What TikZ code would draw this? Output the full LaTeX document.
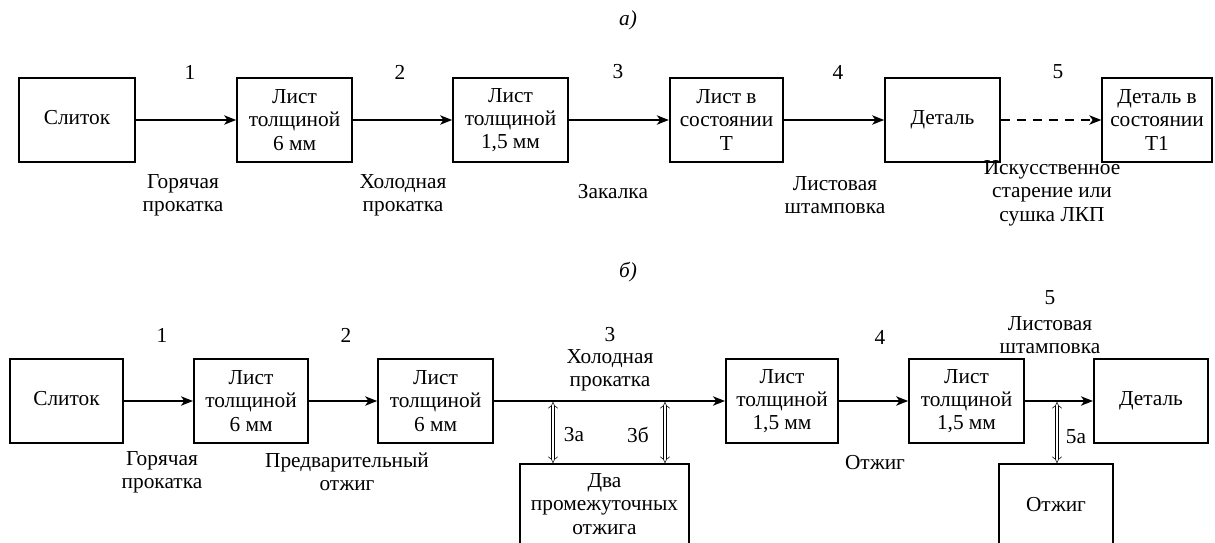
\documentclass[tikz,border=0pt]{standalone}
\usepackage{fontspec}
\setmainfont{Liberation Serif}
\usetikzlibrary{arrows.meta}
\begin{document}
\begin{tikzpicture}[x=0.75pt,y=-0.75pt,
  every node/.style={font=\rmfamily\fontsize{16}{17.5}\selectfont, align=center},
  box/.style={draw, line width=1.5pt, minimum height=63pt, inner sep=0pt},
  lbl/.style={inner sep=0pt},
  arr/.style={line width=1.2pt, -{Stealth[length=9pt,width=7pt,inset=2.5pt]}},
  dbl/.style={line width=0.4pt, double, double distance=2.2pt, {Implies[length=2.5pt]}-{Implies[length=2.5pt]}}
]
\useasboundingbox (0,0) rectangle (1215,543);
% ---------- a)
\node[lbl] (ta) at (628,20) {\itshape а)};
\node[box, minimum width=87pt] (a1) at (77,120) {\strut Слиток};
\node[box, minimum width=86pt] (a2) at (294.5,120) {Лист\\толщиной\\6 мм};
\node[box, minimum width=86pt] (a3) at (510.5,120) {Лист\\толщиной\\1,5 мм};
\node[box, minimum width=85pt] (a4) at (726.5,120) {Лист в\\состоянии\\Т};
\node[box, minimum width=86pt] (a5) at (942.5,120) {\strut Деталь};
\node[box, minimum width=82pt] (a6) at (1157,120) {Деталь в\\состоянии\\Т1};
\draw[arr] (a1) -- (a2);
\draw[arr] (a2) -- (a3);
\draw[arr] (a3) -- (a4);
\draw[arr] (a4) -- (a5);
\draw[arr, dashed, dash pattern=on 7pt off 5pt] (a5) -- (a6);
\node[lbl] (an1) at (190,72) {1};
\node[lbl] (an2) at (400,72) {2};
\node[lbl] (an3) at (618,72) {3};
\node[lbl] (an4) at (838,72) {4};
\node[lbl] (an5) at (1058,72) {5};
\node[lbl] (al1) at (183,195) {Горячая\\прокатка};
\node[lbl] (al2) at (403,195) {Холодная\\прокатка};
\node[lbl] (al3) at (613,192) {Закалка};
\node[lbl] (al4) at (835,195) {Листовая\\штамповка};
\node[lbl] (al5) at (1052,193) {Искусственное\\старение или\\сушка ЛКП};
% ---------- b)
\node[lbl] (tb) at (628,272) {\itshape б)};
\node[box, minimum width=85pt] (b1) at (66.5,401) {\strut Слиток};
\node[box, minimum width=85.5pt] (b2) at (251,401) {Лист\\толщиной\\6 мм};
\node[box, minimum width=86pt] (b3) at (435.5,401) {Лист\\толщиной\\6 мм};
\node[box, minimum width=84pt] (b4) at (782,401) {Лист\\толщиной\\1,5 мм};
\node[box, minimum width=86pt] (b5) at (966.5,401) {Лист\\толщиной\\1,5 мм};
\node[box, minimum width=85.5pt] (b6) at (1151,401) {\strut Деталь};
\draw[arr] (b1) -- (b2);
\draw[arr] (b2) -- (b3);
\draw[arr] (b3) -- (b4);
\draw[arr] (b4) -- (b5);
\draw[arr] (b5) -- (b6);
\node[box, minimum width=127pt, minimum height=90pt, anchor=north] (dva) at (604.5,463) {};
\node[lbl] (dvat) at (604.5,504) {Два\\промежуточных\\отжига};
\node[box, minimum width=85.5pt, minimum height=90pt, anchor=north] (otj) at (1056,463) {};
\node[lbl] (otjt) at (1056,505) {Отжиг};
\coordinate (j3a) at (553,402);
\coordinate (j3b) at (665,402);
\coordinate (j5a) at (1057,402);
\draw[dbl] (j3a) -- (j3a |- dva.north);
\draw[dbl] (j3b) -- (j3b |- dva.north);
\draw[dbl] (j5a) -- (j5a |- otj.north);
\node[lbl] (bn1) at (162,335) {1};
\node[lbl] (bn2) at (346,335) {2};
\node[lbl] (bn3) at (610,335) {3};
\node[lbl] (bn4) at (880,337) {4};
\node[lbl] (bn5) at (1050,298) {5};
\node[lbl] (bl3) at (610,370) {Холодная\\прокатка};
\node[lbl] (bl5) at (1050,335) {Листовая\\штамповка};
\node[lbl] (bl1) at (162,472) {Горячая\\прокатка};
\node[lbl] (bl2) at (347,472) {Предварительный\\отжиг};
\node[lbl] (bl4) at (875,463) {Отжиг};
\node[lbl] (l3a) at (574,435) {3а};
\node[lbl] (l3b) at (638,435) {3б};
\node[lbl] (l5a) at (1076,437) {5а};
\end{tikzpicture}
\end{document}
